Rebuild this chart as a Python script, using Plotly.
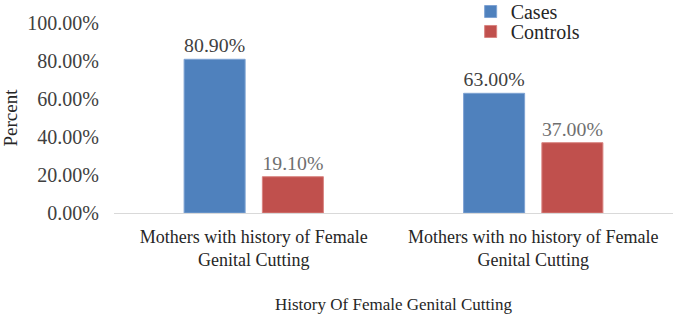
import plotly.graph_objects as go

categories = ["Mothers with history of Female<br>Genital Cutting",
              "Mothers with no history of Female<br>Genital Cutting"]
cases = [80.90, 63.00]
controls = [19.10, 37.00]
y_ticks = [0, 20, 40, 60, 80, 100]
y_tick_labels = ["0.00%", "20.00%", "40.00%", "60.00%", "80.00%", "100.00%"]

FONT = "Liberation Serif"

fig = go.Figure()
fig.add_trace(go.Bar(
    name="Cases", x=categories, y=cases,
    marker=dict(color="#4F81BD", line=dict(color="#7fa3d3", width=1)),
    text=[f"{v:.2f}%" for v in cases], textposition="outside",
    textfont=dict(family=FONT, size=20, color="#404040"),
    cliponaxis=False, legend="legend",
))
fig.add_trace(go.Bar(
    name="Controls", x=categories, y=controls,
    marker=dict(color="#C0504D", line=dict(color="#d98481", width=1)),
    text=[f"{v:.2f}%" for v in controls], textposition="outside",
    textfont=dict(family=FONT, size=20, color="#6f6f6f"),
    cliponaxis=False, legend="legend2",
))

legend_common = dict(xanchor="left", yanchor="top",
                     font=dict(family=FONT, size=20, color="#262626"),
                     bgcolor="rgba(0,0,0,0)", itemwidth=30)

fig.update_layout(
    width=677, height=316,
    margin=dict(l=114, r=4, t=23, b=103, autoexpand=False),
    paper_bgcolor="white", plot_bgcolor="white",
    font=dict(family=FONT, size=18, color="#262626"),
    barmode="group", bargap=0.44, bargroupgap=0.22,
    showlegend=True,
    legend=dict(x=0.638, y=1.163, **legend_common),
    legend2=dict(x=0.638, y=1.058, **legend_common),
    xaxis=dict(showline=True, linecolor="#d9d9d9", linewidth=1,
               ticks="", showgrid=False, automargin=False,
               ticklabelstandoff=7,
               tickfont=dict(family=FONT, size=18, color="#262626"),
               title=dict(text="History Of Female Genital Cutting",
                          font=dict(family=FONT, size=17, color="#262626"),
                          standoff=29)),
    yaxis=dict(range=[0, 100], tickvals=y_ticks, ticktext=y_tick_labels,
               showgrid=False, showline=False, zeroline=False, ticks="",
               ticklabelstandoff=14, automargin=False,
               tickfont=dict(family=FONT, size=20, color="#404040"),
               title=dict(text="Percent",
                          font=dict(family=FONT, size=19, color="#262626"),
                          standoff=6)),
)

fig.write_html("out.html", config={"displayModeBar": False},
               post_script="document.body.style.margin='0';")
